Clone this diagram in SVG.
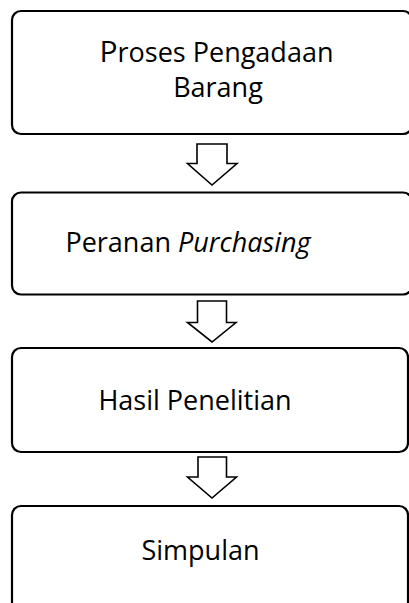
<svg xmlns="http://www.w3.org/2000/svg" width="409" height="603" viewBox="0 0 409 603">
<style>
.box{fill:#fff;stroke:#000;stroke-width:2.2}
.arr{fill:#fff;stroke:#000;stroke-width:1.6;stroke-linejoin:miter}
.t{font-family:"Open Sans","Noto Sans",sans-serif;font-size:27px;fill:#000;text-anchor:middle}
</style>
<rect width="409" height="603" fill="#fff"/>
<g id="node1">
<rect class="box" x="12" y="11" width="400" height="123" rx="9"/>
<text class="t" x="216.5" y="62"><tspan font-size="30">P</tspan>roses Pengadaan</text>
<text class="t" x="218" y="97">Barang</text>
</g>
<g id="node2">
<rect class="box" x="12" y="192.5" width="400" height="102" rx="9"/>
<text class="t" x="188" y="252">Peranan <tspan font-style="italic">Purchasing</tspan></text>
</g>
<g id="node3">
<rect class="box" x="12" y="348" width="396" height="104" rx="9"/>
<text class="t" x="195" y="410">Hasil Penelitian</text>
</g>
<g id="node4">
<rect class="box" x="12" y="506" width="396" height="120" rx="9"/>
<text class="t" x="200.5" y="560">Simpulan</text>
</g>
<g id="connectors">
<polygon class="arr" points="197,144 227,144 227,163.5 237,163.5 212,185 187.5,163.5 197,163.5"/>
<polygon class="arr" points="197.5,301 226.5,301 226.5,322.5 236,322.5 212,342 187.5,322.5 197.5,322.5"/>
<polygon class="arr" points="198,457 226.5,457 226.5,477 236.5,477 212,498 187.5,477 198,477"/>
</g>
</svg>
